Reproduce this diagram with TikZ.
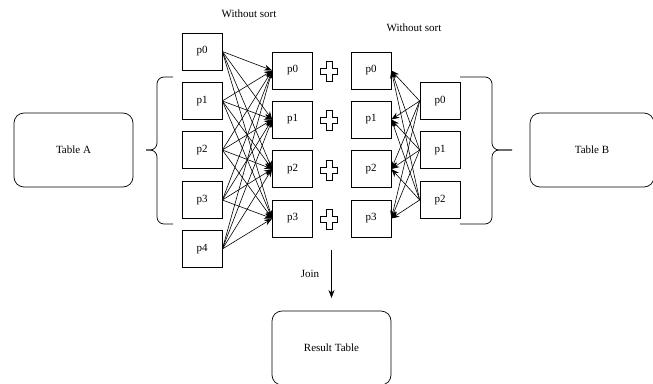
\documentclass[tikz,border=0pt]{standalone}
\usepackage{fontspec}
\setmainfont{Liberation Serif}
\usepackage{tikz}
\usetikzlibrary{positioning}
\usetikzlibrary{arrows.meta}
\tikzstyle{partnode} = [rectangle, draw, line width=0.7pt, inner sep=0pt, minimum width=40pt, minimum height=37pt]
\tikzstyle{tablenode} = [rectangle, draw, line width=0.7pt, rounded corners=10pt, inner sep=0pt, minimum width=119pt, minimum height=74pt]
\tikzstyle{shuffle} = [draw, line width=0.6pt, -{Stealth[length=8pt, width=6pt]}]
\tikzstyle{bracepath} = [draw, line width=0.7pt, rounded corners=7pt]

\begin{document}
\begin{tikzpicture}[x=1pt, y=-1pt, font=\fontsize{11}{13}\selectfont]
\useasboundingbox (0,0) rectangle (653,383);
%%%% table A
\node [tablenode] at (73.5,150) (ta) {Table A};
\path [bracepath] (173,77) -- (157,77) -- (157,150) -- (146,150);
\path [bracepath] (173,224) -- (157,224) -- (157,150) -- (146,150);

% partitions of A
\node at (249,14) (wsa) {Without sort};
\node [partnode] at (202,51.5) (a0) {p0};
\node [partnode] at (202,101) (a1) {p1};
\node [partnode] at (202,150) (a2) {p2};
\node [partnode] at (202,200) (a3) {p3};
\node [partnode] at (202,249) (a4) {p4};

% join partitions
\node [partnode] at (292.5,70.5) (ja0) {p0};
\node [partnode] at (292.5,119.5) (ja1) {p1};
\node [partnode] at (292.5,169) (ja2) {p2};
\node [partnode] at (292.5,218.5) (ja3) {p3};

\node [partnode] at (371,70.5) (jb0) {p0};
\node [partnode] at (371,119.5) (jb1) {p1};
\node [partnode] at (371,169) (jb2) {p2};
\node [partnode] at (371,218.5) (jb3) {p3};

% plus signs
\draw [line width=0.7pt, shift={(329,71.5)}] (-3,-10) -- (3,-10) -- (3,-3) -- (8.5,-3) -- (8.5,3) -- (3,3) -- (3,10) -- (-3,10) -- (-3,3) -- (-8.5,3) -- (-8.5,-3) -- (-3,-3) -- cycle;
\draw [line width=0.7pt, shift={(329,120.5)}] (-3,-10) -- (3,-10) -- (3,-3) -- (8.5,-3) -- (8.5,3) -- (3,3) -- (3,10) -- (-3,10) -- (-3,3) -- (-8.5,3) -- (-8.5,-3) -- (-3,-3) -- cycle;
\draw [line width=0.7pt, shift={(329,170)}] (-3,-10) -- (3,-10) -- (3,-3) -- (8.5,-3) -- (8.5,3) -- (3,3) -- (3,10) -- (-3,10) -- (-3,3) -- (-8.5,3) -- (-8.5,-3) -- (-3,-3) -- cycle;
\draw [line width=0.7pt, shift={(329,219.5)}] (-3,-10) -- (3,-10) -- (3,-3) -- (8.5,-3) -- (8.5,3) -- (3,3) -- (3,10) -- (-3,10) -- (-3,3) -- (-8.5,3) -- (-8.5,-3) -- (-3,-3) -- cycle;

%%%% table B
\node [tablenode, minimum width=124pt] at (592,150) (tb) {Table B};
\path [bracepath] (460,77) -- (492,77) -- (492,150) -- (512,150);
\path [bracepath] (460,224) -- (492,224) -- (492,150) -- (512,150);

% partitions of B
\node at (414,28) (wsb) {Without sort};
\node [partnode] at (440,101) (b0) {p0};
\node [partnode] at (440,150) (b1) {p1};
\node [partnode] at (440,200) (b2) {p2};

% A -> join
\path [shuffle] (a0.east) to (ja0.west);
\path [shuffle] (a0.east) to (ja1.west);
\path [shuffle] (a0.east) to (ja2.west);
\path [shuffle] (a0.east) to (ja3.west);
\path [shuffle] (a1.east) to (ja0.west);
\path [shuffle] (a1.east) to (ja1.west);
\path [shuffle] (a1.east) to (ja2.west);
\path [shuffle] (a1.east) to (ja3.west);
\path [shuffle] (a2.east) to (ja0.west);
\path [shuffle] (a2.east) to (ja1.west);
\path [shuffle] (a2.east) to (ja2.west);
\path [shuffle] (a2.east) to (ja3.west);
\path [shuffle] (a3.east) to (ja0.west);
\path [shuffle] (a3.east) to (ja1.west);
\path [shuffle] (a3.east) to (ja2.west);
\path [shuffle] (a3.east) to (ja3.west);
\path [shuffle] (a4.east) to (ja0.west);
\path [shuffle] (a4.east) to (ja1.west);
\path [shuffle] (a4.east) to (ja2.west);
\path [shuffle] (a4.east) to (ja3.west);

% B -> join
\path [shuffle] (b0.west) to (jb0.east);
\path [shuffle] (b0.west) to (jb1.east);
\path [shuffle] (b0.west) to (jb2.east);
\path [shuffle] (b0.west) to (jb3.east);
\path [shuffle] (b1.west) to (jb0.east);
\path [shuffle] (b1.west) to (jb1.east);
\path [shuffle] (b1.west) to (jb2.east);
\path [shuffle] (b1.west) to (jb3.east);
\path [shuffle] (b2.west) to (jb0.east);
\path [shuffle] (b2.west) to (jb1.east);
\path [shuffle] (b2.west) to (jb2.east);
\path [shuffle] (b2.west) to (jb3.east);

%%%% result
\node [tablenode] at (331.5,348) (res) {Result Table};
\coordinate (jtop) at (331.5,250);
\coordinate (jend) at (331.5,298);
\path [shuffle] (jtop) to (jend);
\node at (310,274) (join) {Join};
\end{tikzpicture}
\end{document}
